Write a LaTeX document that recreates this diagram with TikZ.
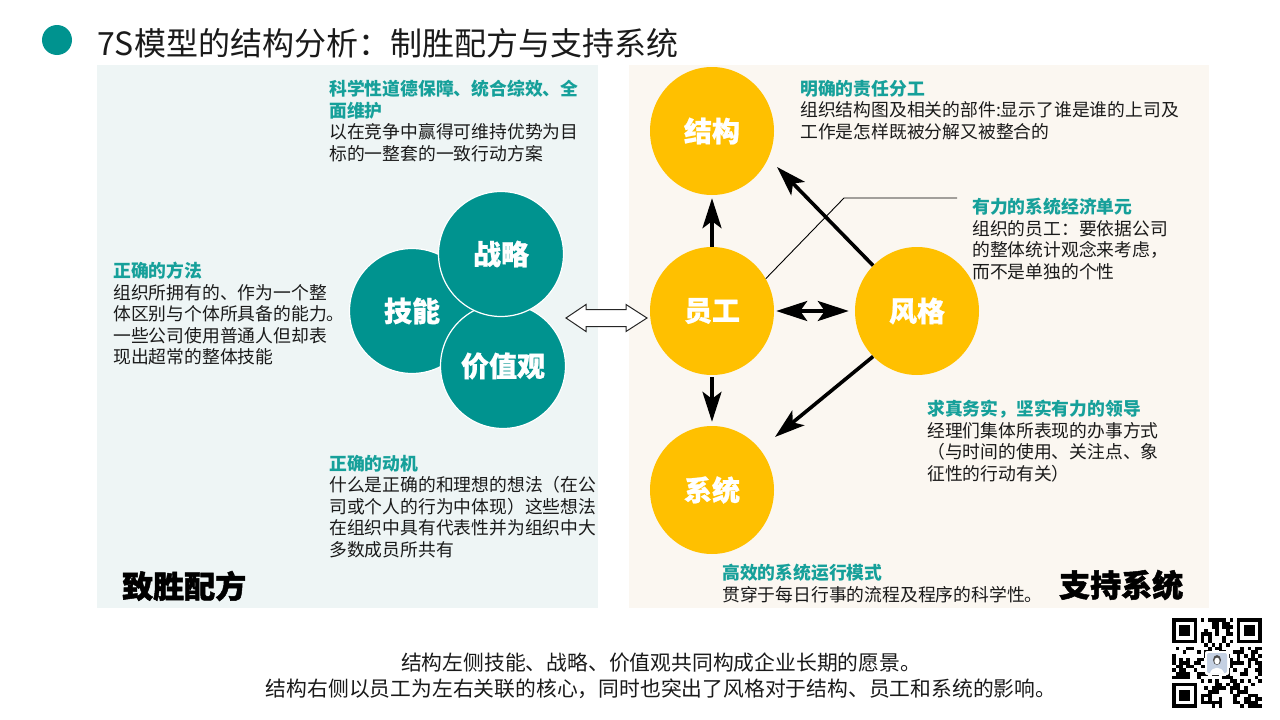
\documentclass[tikz,border=0pt]{standalone}
\usepackage{fontspec}
\setmainfont{Noto Sans CJK SC}
\newfontfamily\heavyfont{Noto Sans CJK SC}[BoldFeatures={FakeBold=1.6}]
\newfontfamily\semiheavy{Noto Sans CJK SC}[BoldFeatures={FakeBold=0.8}]
\usetikzlibrary{shapes.geometric,arrows.meta}
\definecolor{teal1}{HTML}{00938F}
\definecolor{tealtxt}{HTML}{16A09A}
\definecolor{gold}{HTML}{FFC000}
\definecolor{lpanel}{HTML}{EEF5F5}
\definecolor{rpanel}{HTML}{FBF7F1}
\definecolor{txt}{HTML}{1A1A1A}
\definecolor{photo}{HTML}{C4D0E2}
\newcommand\hdr[1]{{\bfseries\color{tealtxt}#1}}
\tikzset{
  txtblock/.style={anchor=north west, inner sep=0pt, align=left, text=txt,
    font=\fontsize{17.8}{21.5}\selectfont},
  tealball/.style={circle, fill=teal1, draw=white, line width=1.2pt, minimum size=125pt,
    inner sep=0pt, text=white, font=\semiheavy\fontsize{28}{30}\selectfont\bfseries},
  goldball/.style={ellipse, fill=gold, minimum width=124pt, minimum height=128pt,
    inner sep=0pt, text=white, font=\semiheavy\fontsize{28}{30}\selectfont\bfseries},
  bigarrow/.style={line width=3.6pt, -{Stealth[length=30pt, width=19pt, inset=7pt]}},
  bigtitle/.style={inner sep=0pt, text=black, font=\heavyfont\fontsize{31}{33}\selectfont\bfseries},
}
\begin{document}
\begin{tikzpicture}[x=1pt, y=-1pt]
\useasboundingbox (0,0) rectangle (1280,720);
\fill[white] (0,0) rectangle (1280,720);

% title
\fill[teal1] (57,40) circle (15pt);
\node[anchor=west, inner sep=0pt, text=txt, font=\fontsize{32}{34}\selectfont] (title) at (97,43)
  {7S模型的结构分析：制胜配方与支持系统};

% panels
\fill[lpanel] (97,65) rectangle (598,608);
\fill[rpanel] (629,65) rectangle (1209,608);

% left circles
\node[tealball] (jineng) at (412,311) {技能};
\node[tealball] (jiazhi) at (503,366) {价值观};
\node[tealball] (zhanlue) at (501,254) {战略};

% right ellipses
\node[goldball] (jiegou) at (712,131) {结构};
\node[goldball] (yuangong) at (712,311) {员工};
\node[goldball] (fengge) at (917,311) {风格};
\node[goldball] (xitong) at (712,490) {系统};

% hollow double arrow between panels
\draw[line width=1pt, draw=black!85, fill=white]
  (566,318) -- (586,304.5) -- (586,309.5) -- (626,309.5) -- (626,304.5) -- (647,318)
  -- (626,331.5) -- (626,326.5) -- (586,326.5) -- (586,331.5) -- cycle;

% arrows
\coordinate (tipA) at (777,167);
\coordinate (tipB) at (775,437);
\draw[bigarrow, shorten >=3pt] (yuangong.north) -- (jiegou.south);
\draw[bigarrow, shorten >=4pt, shorten <=2pt] (yuangong.south) -- (xitong.north);
\draw[line width=3.6pt, {Stealth[length=31pt, width=20pt, inset=7pt]}-{Stealth[length=31pt, width=20pt, inset=7pt]},
  shorten <=2pt, shorten >=6pt] (yuangong.east) -- (fengge.west);
\draw[bigarrow] (fengge.134) -- (tipA);
\draw[bigarrow] (fengge.226) -- (tipB);

% leader line
\coordinate (bend) at (844,198);
\coordinate (lend) at (957,198);
\draw[line width=0.9pt] (yuangong.31) -- (bend) -- (lend);

% text blocks
\node[txtblock] (tA) at (329,80) {\hdr{科学性道德保障、统合综效、全}\\\hdr{面维护}\\以在竞争中赢得可维持优势为目\\标的一整套的一致行动方案};
\node[txtblock] (tB) at (113,262) {\hdr{正确的方法}\\组织所拥有的、作为一个整\\体区别与个体所具备的能力。\\一些公司使用普通人但却表\\现出超常的整体技能};
\node[txtblock] (tC) at (329,455) {\hdr{正确的动机}\\什么是正确的和理想的想法（在公\\司或个人的行为中体现）这些想法\\在组织中具有代表性并为组织中大\\多数成员所共有};
\node[txtblock] (tD) at (800,80) {\hdr{明确的责任分工}\\组织结构图及相关的部件:显示了谁是谁的上司及\\工作是怎样既被分解又被整合的};
\node[txtblock] (tE) at (972,198) {\hdr{有力的系统经济单元}\\组织的员工：要依据公司\\的整体统计观念来考虑，\\而不是单独的个性};
\node[txtblock] (tF) at (927,400) {\hdr{求真务实，坚实有力的领导}\\经理们集体所表现的办事方式\\（与时间的使用、关注点、象\\征性的行动有关）};
\node[txtblock] (tG) at (722,564) {\hdr{高效的系统运行模式}\\贯穿于每日行事的流程及程序的科学性。};

\node[bigtitle, anchor=west] (zhisheng) at (122,586) {致胜配方};
\node[bigtitle, anchor=west] (zhichi) at (1059,585) {支持系统};

% bottom text
\node[inner sep=0pt, align=center, text=txt, font=\fontsize{20.8}{26}\selectfont] (bottom) at (661,676)
  {结构左侧技能、战略、价值观共同构成企业长期的愿景。\\结构右侧以员工为左右关联的核心，同时也突出了风格对于结构、员工和系统的影响。};

% QR code
\begin{scope}[shift={(1172,618)}]
  \clip (0,0) rectangle (90,90);
  \fill[white] (0,0) rectangle (90,90);
  \pgfmathsetseed{2024}
  \foreach \i in {0,...,24}{\foreach \j in {0,...,24}{
    \pgfmathtruncatemacro\bit{rnd*1.9}
    \ifnum\bit=1 \fill[black] (\i*3.6,\j*3.6) rectangle ++(3.6,3.6);\fi}}
  \foreach \px/\py in {0/0,64.8/0,0/64.8}{
    \fill[white] (\px-3.6,\py-3.6) rectangle (\px+28.8,\py+28.8);
    \fill[black] (\px,\py) rectangle (\px+25.2,\py+25.2);
    \fill[white] (\px+3.6,\py+3.6) rectangle (\px+21.6,\py+21.6);
    \fill[black] (\px+7.2,\py+7.2) rectangle (\px+18,\py+18);
  }
  \fill[white, rounded corners=2pt] (33,33) rectangle (57,57);
  \fill[photo, rounded corners=2pt] (35,35) rectangle (55,55);
  \fill[black!70] (45,42) ellipse (4pt and 5pt);
  \fill[white] (45,43) ellipse (2.6pt and 3.4pt);
  \fill[white] (38,55) .. controls (40,48) and (50,48) .. (52,55) -- cycle;
\end{scope}
\end{tikzpicture}
\end{document}
